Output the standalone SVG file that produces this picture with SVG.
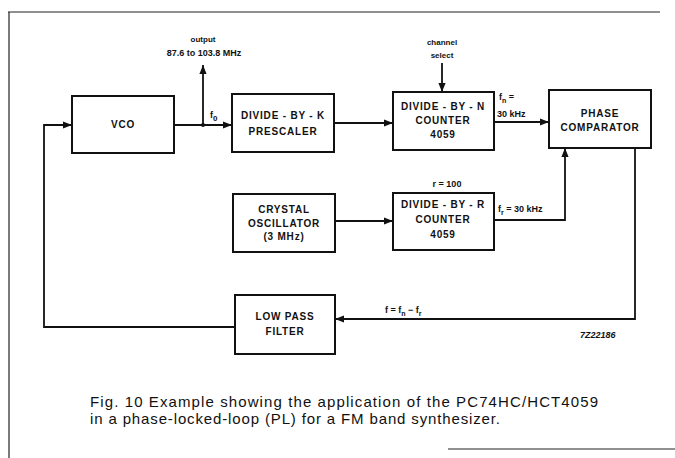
<svg xmlns="http://www.w3.org/2000/svg" width="675" height="458" viewBox="0 0 675 458">
<defs>
<marker id="arr" viewBox="0 0 10 10" refX="10" refY="5" markerWidth="9" markerHeight="9" markerUnits="userSpaceOnUse" orient="auto">
<path d="M0,1 L10,5 L0,9 z" fill="#111"/>
</marker>
<style>
.box{fill:#fff;stroke:#111;stroke-width:2}
.ln{fill:none;stroke:#111;stroke-width:1.8}
.frame{fill:none;stroke:#222;stroke-width:1.2}
.bt{font-family:"Liberation Sans",Arial,sans-serif;font-weight:bold;font-size:10px;fill:#111;text-anchor:middle;letter-spacing:0.8px}
.lb{font-family:"Liberation Sans",Arial,sans-serif;font-weight:bold;font-size:9px;fill:#111}
.sm{font-family:"Liberation Sans",Arial,sans-serif;font-weight:bold;font-size:8px;fill:#111;text-anchor:middle}
.cap{font-family:"Liberation Sans",Arial,sans-serif;font-size:15px;fill:#111}
</style>
</defs>
<g id="frame">
<path class="frame" d="M8,12 H660"/>
<path class="frame" d="M9,12 V458"/>
<path class="frame" d="M448,449 H675"/>
</g>
<g id="connectors">
<path class="ln" d="M174,125 H232" marker-end="url(#arr)"/>
<path class="ln" d="M203,125 V65" marker-end="url(#arr)"/>
<circle cx="203" cy="125" r="2" fill="#111"/>
<path class="ln" d="M334,123 H393" marker-end="url(#arr)"/>
<path class="ln" d="M442,63 V92" marker-end="url(#arr)"/>
<path class="ln" d="M494,122 H549" marker-end="url(#arr)"/>
<path class="ln" d="M335,221 H393" marker-end="url(#arr)"/>
<path class="ln" d="M494,220 H565 V148" marker-end="url(#arr)"/>
<path class="ln" d="M635,148 V319 H335" marker-end="url(#arr)"/>
<path class="ln" d="M235,327 H44 V125 H72" marker-end="url(#arr)"/>
</g>
<g id="vco">
<rect class="box" x="72" y="96" width="102" height="57"/>
<text class="bt" x="123" y="128">VCO</text>
</g>
<g id="divk">
<rect class="box" x="232" y="94" width="102" height="58"/>
<text class="bt" x="283" y="119">DIVIDE - BY - K</text>
<text class="bt" x="283" y="135">PRESCALER</text>
</g>
<g id="divn">
<rect class="box" x="393" y="92" width="101" height="58"/>
<text class="bt" x="443" y="110">DIVIDE - BY - N</text>
<text class="bt" x="443" y="124">COUNTER</text>
<text class="bt" x="443" y="138">4059</text>
</g>
<g id="phase">
<rect class="box" x="549" y="90" width="102" height="58"/>
<text class="bt" x="600" y="117">PHASE</text>
<text class="bt" x="600" y="131">COMPARATOR</text>
</g>
<g id="crystal">
<rect class="box" x="233" y="194" width="102" height="58"/>
<text class="bt" x="284" y="213">CRYSTAL</text>
<text class="bt" x="284" y="227">OSCILLATOR</text>
<text class="bt" x="284" y="240">(3 MHz)</text>
</g>
<g id="divr">
<rect class="box" x="393" y="193" width="101" height="57"/>
<text class="bt" x="443" y="208">DIVIDE - BY - R</text>
<text class="bt" x="443" y="223">COUNTER</text>
<text class="bt" x="443" y="238">4059</text>
</g>
<g id="lpf">
<rect class="box" x="235" y="295" width="100" height="59"/>
<text class="bt" x="285" y="320">LOW PASS</text>
<text class="bt" x="285" y="335">FILTER</text>
</g>
<g id="labels">
<text class="sm" x="203" y="42">output</text>
<text class="lb" x="204" y="56" text-anchor="middle">87.6 to 103.8 MHz</text>
<text class="lb" x="210" y="118" font-size="10">f<tspan dy="3" font-size="8">0</tspan></text>
<text class="sm" x="442" y="45">channel</text>
<text class="sm" x="442" y="58">select</text>
<text class="lb" x="499" y="100">f<tspan dy="3" font-size="7">n</tspan><tspan dy="-3"> =</tspan></text>
<text class="lb" x="497" y="117">30 kHz</text>
<text class="lb" x="447" y="187" text-anchor="middle">r = 100</text>
<text class="lb" x="498" y="212">f<tspan dy="3" font-size="7">r</tspan><tspan dy="-3"> = 30 kHz</tspan></text>
<text class="lb" x="385" y="313">f = f<tspan dy="3" font-size="7">n</tspan><tspan dy="-3"> − f</tspan><tspan dy="3" font-size="7">r</tspan></text>
<text class="lb" x="580" y="338" font-style="italic" font-size="8">7Z22186</text>
</g>
<g id="caption">
<text class="cap" x="90" y="407" textLength="508" lengthAdjust="spacing">Fig. 10  Example showing the application of the PC74HC/HCT4059</text>
<text class="cap" x="90" y="424" textLength="410" lengthAdjust="spacing">in a phase-locked-loop (PL) for a FM band synthesizer.</text>
</g>
</svg>
